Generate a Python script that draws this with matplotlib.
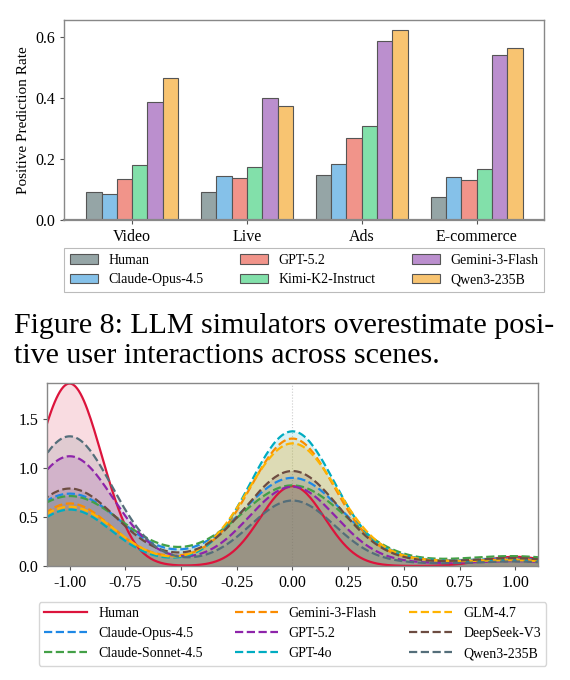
# -*- coding: utf-8 -*-
import numpy as np
import matplotlib
matplotlib.use('Agg')
import matplotlib.pyplot as plt
import seaborn as sns

plt.rcParams['font.family'] = ['Liberation Serif', 'DejaVu Serif']
plt.rcParams['axes.unicode_minus'] = False

# --- top: positive prediction rate per scene ---
scenes = ['Video', 'Live', 'Ads', 'E-commerce']
bar_models = ['Human', 'Claude-Opus-4.5', 'GPT-5.2', 'Kimi-K2-Instruct',
              'Gemini-3-Flash', 'Qwen3-235B']
human_rate = [0.091, 0.091, 0.149, 0.074]
claude_opus_rate = [0.084, 0.143, 0.182, 0.140]
gpt52_rate = [0.133, 0.136, 0.268, 0.130]
kimi_rate = [0.179, 0.173, 0.307, 0.166]
gemini_rate = [0.388, 0.401, 0.587, 0.539]
qwen_rate = [0.466, 0.374, 0.624, 0.562]
bar_colors = ['#95a5a6', '#85c1e9', '#f1948a', '#82e0aa', '#bb8fce', '#f8c471']

# --- bottom: distribution of predicted interaction label (-1 / 0 / 1) ---
rating_levels = [-1.0, -0.5, 0.0, 0.5, 1.0]
kde_models = ['Human', 'Claude-Opus-4.5', 'Claude-Sonnet-4.5', 'Gemini-3-Flash',
              'GPT-5.2', 'GPT-4o', 'GLM-4.7', 'DeepSeek-V3', 'Qwen3-235B']
human_share = [0.672, 0.0, 0.294, 0.0, 0.034]
claude_opus_share = [0.419, 0.015, 0.509, 0.016, 0.041]
claude_sonnet_share = [0.422, 0.018, 0.485, 0.017, 0.058]
gemini_share = [0.302, 0.025, 0.615, 0.029, 0.030]
gpt52_share = [0.552, 0.012, 0.398, 0.013, 0.024]
gpt4o_share = [0.274, 0.015, 0.653, 0.030, 0.028]
glm_share = [0.306, 0.009, 0.632, 0.024, 0.029]
deepseek_share = [0.415, 0.019, 0.508, 0.017, 0.041]
qwen_share = [0.633, 0.014, 0.319, 0.012, 0.022]
kde_bandwidth = [0.144, 0.227, 0.237, 0.189, 0.197, 0.190, 0.202, 0.210, 0.191]
kde_colors = ['#DC143C', '#1E88E5', '#43A047', '#FB8C00', '#8E24AA',
              '#00ACC1', '#FFB300', '#6D4C41', '#546E7A']

fig = plt.figure(figsize=(5.7, 6.8), dpi=100)

# ---------------- bar chart ----------------
ax1 = fig.add_axes([0.113, 0.6765, 0.842, 0.294])
x = np.arange(len(scenes))
width = 0.8 / len(bar_models)
rates = [human_rate, claude_opus_rate, gpt52_rate, kimi_rate, gemini_rate, qwen_rate]
for i, (name, vals) in enumerate(zip(bar_models, rates)):
    ax1.bar(x + (i - 2.5) * width, vals, width, color=bar_colors[i],
            edgecolor='#555555', linewidth=0.8, label=name)
ax1.set_xticks(x)
ax1.set_xticklabels(scenes, fontsize=11.5)
ax1.set_yticks([0.0, 0.2, 0.4, 0.6])
ax1.tick_params(axis='y', labelsize=11.5)
ax1.set_ylim(0, 0.655)
ax1.set_ylabel('Positive Prediction Rate', fontsize=11)
for s in ax1.spines.values():
    s.set_color('#888888')
    s.set_linewidth(1.0)
ax1.spines['bottom'].set_linewidth(1.6)
ax1.tick_params(color='#555555', length=3)
leg1 = ax1.legend(loc='upper center', bbox_to_anchor=(0, -0.14, 1, 0),
                  mode='expand', ncol=3, fontsize=10, borderaxespad=0,
                  fancybox=False, edgecolor='#aaaaaa', handlelength=2.0)
leg1.get_frame().set_linewidth(0.8)

# ---------------- caption ----------------
fig.text(14 / 570, 1 - 333 / 680, 'Figure 8: LLM simulators overestimate posi-',
         fontsize=21.6, ha='left', va='baseline')
fig.text(14 / 570, 1 - 363 / 680, 'tive user interactions across scenes.',
         fontsize=21.6, ha='left', va='baseline')

# ---------------- density chart ----------------
ax2 = fig.add_axes([0.083, 0.1676, 0.860, 0.2696])
shares = [human_share, claude_opus_share, claude_sonnet_share, gemini_share,
          gpt52_share, gpt4o_share, glm_share, deepseek_share, qwen_share]

series = []
for name, share, bw, c in zip(kde_models, shares, kde_bandwidth, kde_colors):
    lv = np.array(rating_levels)
    w = np.array(share)
    keep = w > 0
    lv, w = lv[keep], w[keep]
    std_w = np.sqrt(np.cov(lv, aweights=w))
    series.append((name, lv, w, bw / std_w, c))

for name, lv, w, factor, c in series:
    sns.kdeplot(x=lv, weights=w, bw_method=factor, gridsize=400, fill=True,
                color=c, alpha=0.15, linewidth=0, ax=ax2)
for name, lv, w, factor, c in series:
    ls = '-' if name == 'Human' else '--'
    sns.kdeplot(x=lv, weights=w, bw_method=factor, gridsize=400, color=c,
                linestyle=ls, linewidth=1.6, label=name, ax=ax2)

ax2.axvline(0, color='#cccccc', linestyle=':', linewidth=0.8, zorder=0)
ax2.set_xlim(-1.1, 1.1)
ax2.set_ylim(0, 1.87)
ax2.set_xticks(np.arange(-1.0, 1.01, 0.25))
ax2.set_yticks([0.0, 0.5, 1.0, 1.5])
ax2.set_ylabel('')
ax2.set_xlabel('')
ax2.tick_params(labelsize=11.5, color='#555555', length=3)
for s in ax2.spines.values():
    s.set_color('#888888')
    s.set_linewidth(1.0)
ax2.legend(loc='upper center', bbox_to_anchor=(0.5, -0.195), ncol=3,
           fontsize=10, borderaxespad=0, handlelength=3.1, columnspacing=2.3)

fig.savefig('out.png', dpi=100)
